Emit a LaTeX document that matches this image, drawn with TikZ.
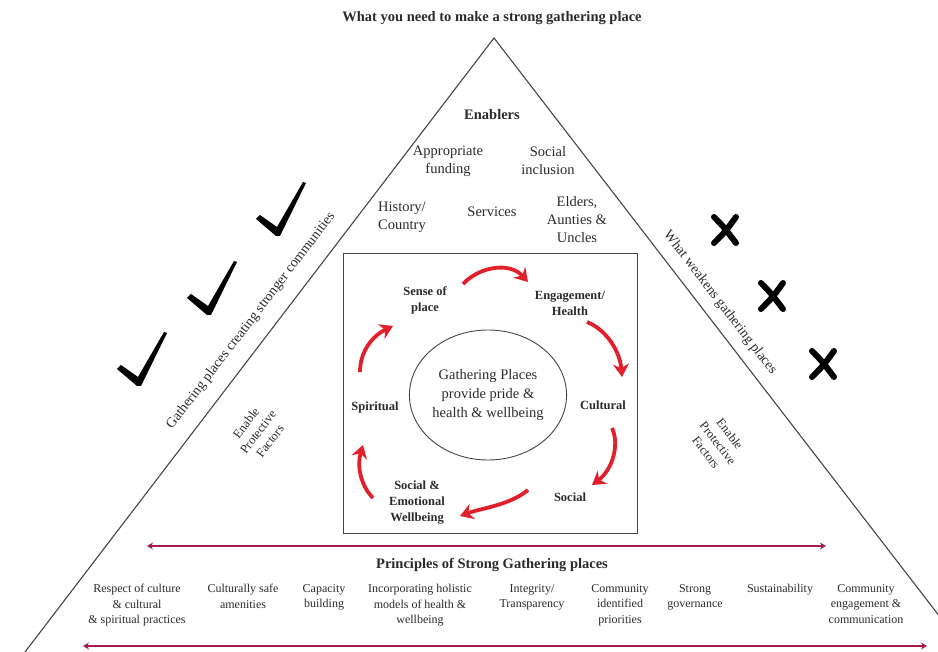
\documentclass[tikz,border=0pt]{standalone}
\usepackage{fontspec}
\setmainfont{Liberation Serif}
\usetikzlibrary{arrows.meta,shapes.geometric}
\definecolor{txt}{HTML}{2B2B2B}
\definecolor{cycred}{HTML}{E2202C}
\definecolor{crim}{HTML}{A51E48}
\definecolor{edgegray}{HTML}{454545}
\begin{document}
\begin{tikzpicture}[x=1pt,y=-1pt,
  every node/.style={text=txt, align=center, inner sep=0pt},
  titlefont/.style={font=\bfseries\fontsize{14.5}{17}\selectfont},
  enab/.style={font=\fontsize{14.5}{18}\selectfont},
  cyclbl/.style={font=\bfseries\fontsize{12.5}{16}\selectfont},
  hubtext/.style={font=\fontsize{14.5}{19}\selectfont},
  princ/.style={font=\fontsize{12}{15.5}\selectfont, anchor=north},
  sidetext/.style={font=\fontsize{14}{16}\selectfont},
  prot/.style={font=\fontsize{12.5}{15}\selectfont},
  triline/.style={draw=edgegray, line width=1.1pt},
  boxline/.style={draw=edgegray, line width=0.9pt},
  cycarrow/.style={draw=cycred, line width=3.8pt, -{Stealth[length=13pt,width=16pt]}},
  redline/.style={draw=crim, line width=2.6pt, {Stealth[length=6pt,width=7pt]}-{Stealth[length=6pt,width=7pt]}},
  chk/.pic={\fill[black] (-21,-14) -- (-17,-18) -- (0,-6) -- (26,-51) -- (29,-50) -- (3,3) -- (-1,3) -- cycle;},
  xmark/.pic={\draw[black, line width=6pt, line cap=round] (-11,-13) .. controls (-2,-4) .. (11,13) (-11,13) .. controls (0,2) .. (11,-13);}
]
\useasboundingbox (0,0) rectangle (938,652);
\clip (0,0) rectangle (938,652);

% title and triangle
\node[titlefont] (title) at (492,18) {What you need to make a strong gathering place};
\coordinate (apex) at (494,38);
\coordinate (bl) at (25,652);
\coordinate (br) at (967,652);
\draw[triline] (bl) -- (apex) -- (br);

% enablers
\node[titlefont] (enablers) at (492,115) {Enablers};
\node[enab] (fund) at (448,161) {Appropriate\\funding};
\node[enab] (incl) at (548,161) {Social\\inclusion};
\node[enab] (hist) at (402,217) {History/\\Country};
\node[enab] (serv) at (492,212) {Services};
\node[enab] (elders) at (577,220) {Elders,\\Aunties \&\\Uncles};

% central box
\node[boxline, draw, minimum width=294, minimum height=280] (box) at (490,393) {};
\node[hubtext, draw=edgegray, line width=0.9pt, ellipse, minimum width=140, minimum height=130] (hub) at (488,395) {Gathering Places\\provide pride \&\\health \& wellbeing};

% cycle labels
\node[cyclbl] (sense) at (425,300) {Sense of\\place};
\node[cyclbl] (eng) at (570,303) {Engagement/\\Health};
\node[cyclbl] (cult) at (603,405) {Cultural};
\node[cyclbl] (soc) at (570,497) {Social};
\node[cyclbl] (sew) at (417,503) {Social \&\\Emotional\\Wellbeing};
\node[cyclbl] (spir) at (375,407) {Spiritual};

% cycle arrows
\coordinate (a1s) at (463,284); \coordinate (a1e) at (528,282);
\coordinate (a2s) at (587,322); \coordinate (a2e) at (622,377);
\coordinate (a3s) at (612,428); \coordinate (a3e) at (592,485);
\coordinate (a4s) at (528,490); \coordinate (a4e) at (460,516);
\coordinate (a5s) at (373,498); \coordinate (a5e) at (363,445);
\coordinate (a6s) at (360,372); \coordinate (a6e) at (393,326);
\draw[cycarrow] (a1s) .. controls (480,266) and (510,262) .. (a1e);
\draw[cycarrow] (a2s) .. controls (607,330) and (620,352) .. (a2e);
\draw[cycarrow] (a3s) .. controls (620,445) and (612,470) .. (a3e);
\draw[cycarrow] (a4s) .. controls (510,505) and (482,508) .. (a4e);
\draw[cycarrow] (a5s) .. controls (360,485) and (357,465) .. (a5e);
\draw[cycarrow] (a6s) .. controls (360,350) and (374,335) .. (a6e);

% side texts
\node[sidetext, rotate=52.6] (gpc) at (251,321) {Gathering places creating stronger communities};
\node[sidetext, rotate=-52.4] (wgp) at (720,303) {What weakens gathering places};
\node[prot, rotate=52.6] (protL) at (258,432) {Enable\\Protective\\Factors};
\node[prot, rotate=-52.4] (protR) at (718,443) {Enable\\Protective\\Factors};

% ticks and crosses
\pic at (138,383) {chk};
\pic at (208,312) {chk};
\pic at (277,233) {chk};
\pic at (725,230) {xmark};
\pic at (772,296) {xmark};
\pic at (823,364) {xmark};

% principles
\coordinate (r1a) at (147,546); \coordinate (r1b) at (826,546);
\draw[redline] (r1a) -- (r1b);
\node[titlefont] (princhead) at (492,565) {Principles of Strong Gathering places};
\node[princ] (p1) at (137,584) {Respect of culture\\\& cultural\\\& spiritual practices};
\node[princ] (p2) at (243,584) {Culturally safe\\amenities};
\node[princ] (p3) at (324,584) {Capacity\\building};
\node[princ] (p4) at (420,584) {Incorporating holistic\\models of health \&\\wellbeing};
\node[princ] (p5) at (532,584) {Integrity/\\Transparency};
\node[princ] (p6) at (620,584) {Community\\identified\\priorities};
\node[princ] (p7) at (695,584) {Strong\\governance};
\node[princ] (p8) at (780,584) {Sustainability};
\node[princ] (p9) at (866,584) {Community\\engagement \&\\communication};
\coordinate (r2a) at (83,646); \coordinate (r2b) at (927,646);
\draw[redline] (r2a) -- (r2b);
\end{tikzpicture}
\end{document}
